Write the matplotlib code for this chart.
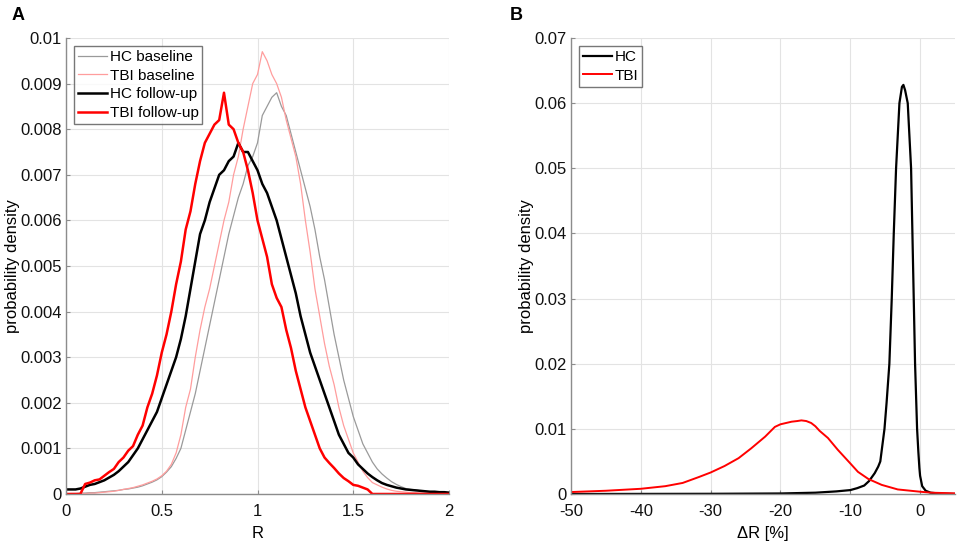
import matplotlib
matplotlib.use("Agg")
import matplotlib.pyplot as plt
import numpy as np

plt.rcParams['font.family'] = ['Liberation Sans', 'DejaVu Sans']
plt.rcParams['font.size'] = 12
plt.rcParams['axes.unicode_minus'] = False

# ---------------- Panel A data ----------------
R = [0.0, 0.025, 0.05, 0.075, 0.1, 0.125, 0.15, 0.175, 0.2, 0.225,
     0.25, 0.275, 0.3, 0.325, 0.35, 0.375, 0.4, 0.425, 0.45, 0.475,
     0.5, 0.525, 0.55, 0.575, 0.6, 0.625, 0.65, 0.675, 0.7, 0.725,
     0.75, 0.775, 0.8, 0.825, 0.85, 0.875, 0.9, 0.925, 0.95, 0.975,
     1.0, 1.025, 1.05, 1.075, 1.1, 1.125, 1.15, 1.175, 1.2, 1.225,
     1.25, 1.275, 1.3, 1.325, 1.35, 1.375, 1.4, 1.425, 1.45, 1.475,
     1.5, 1.525, 1.55, 1.575, 1.6, 1.625, 1.65, 1.675, 1.7, 1.725,
     1.75, 1.775, 1.8, 1.825, 1.85, 1.875, 1.9, 1.925, 1.95, 1.975, 2.0]

hc_baseline = [0.0, 0.00001, 0.00001, 0.00002, 0.00002, 0.00003, 0.00003, 0.00004, 0.00005, 0.00006,
               0.00007, 0.00008, 0.0001, 0.00011, 0.00013, 0.00015, 0.00018, 0.00022, 0.00026, 0.00031,
               0.00038, 0.00048, 0.0006, 0.00078, 0.001, 0.0014, 0.0018, 0.0022, 0.0027, 0.0032,
               0.0037, 0.0042, 0.0047, 0.0052, 0.0057, 0.0061, 0.0065, 0.0068, 0.0072, 0.0074,
               0.0077, 0.0083, 0.0085, 0.0087, 0.0088, 0.0085, 0.0083, 0.0079, 0.0075, 0.0071,
               0.0067, 0.0063, 0.0058, 0.0052, 0.0047, 0.0041, 0.0035, 0.003, 0.0025, 0.0021,
               0.0017, 0.0014, 0.0011, 0.0009, 0.0007, 0.00055, 0.00044, 0.00035, 0.00027, 0.00021,
               0.00016, 0.00012, 0.0001, 0.00009, 0.00007, 0.00006, 0.00005, 0.00004, 0.00003, 0.00003, 0.00002]

tbi_baseline = [0.0, 0.00001, 0.00001, 0.00001, 0.00001, 0.00002, 0.00002, 0.00003, 0.00004, 0.00005,
                0.00006, 0.00008, 0.0001, 0.00012, 0.00014, 0.00017, 0.0002, 0.00024, 0.00028, 0.00033,
                0.0004, 0.0005, 0.00065, 0.0009, 0.0013, 0.0019, 0.0023, 0.003, 0.0036, 0.0041,
                0.0045, 0.005, 0.0055, 0.006, 0.0064, 0.007, 0.0074, 0.008, 0.0085, 0.009,
                0.0092, 0.0097, 0.0095, 0.0092, 0.009, 0.0087, 0.0082, 0.0078, 0.0074, 0.0068,
                0.006, 0.0053, 0.0045, 0.0039, 0.0033, 0.0028, 0.0024, 0.0019, 0.0015, 0.0012,
                0.0009, 0.0007, 0.0005, 0.00036, 0.00025, 0.0002, 0.00015, 0.00011, 0.00008, 0.00006,
                0.00005, 0.00004, 0.00003, 0.00003, 0.00002, 0.00002, 0.00002, 0.00001, 0.00001, 0.00001, 0.00001]

hc_followup = [0.0001, 0.0001, 0.0001, 0.00012, 0.00016, 0.0002, 0.00022, 0.00026, 0.0003, 0.00036,
               0.00042, 0.0005, 0.0006, 0.0007, 0.00085, 0.001, 0.0012, 0.0014, 0.0016, 0.0018,
               0.0021, 0.0024, 0.0027, 0.003, 0.0034, 0.0039, 0.0045, 0.0051, 0.0057, 0.006,
               0.0064, 0.0067, 0.007, 0.0071, 0.0073, 0.0074, 0.0077, 0.0075, 0.0075, 0.0073,
               0.0071, 0.0068, 0.0066, 0.0063, 0.006, 0.0056, 0.0052, 0.0048, 0.0044, 0.0039,
               0.0035, 0.0031, 0.0028, 0.0025, 0.0022, 0.0019, 0.0016, 0.0013, 0.0011, 0.0009,
               0.0008, 0.00065, 0.00055, 0.00045, 0.00037, 0.0003, 0.00024, 0.0002, 0.00017, 0.00014,
               0.00012, 0.0001, 0.00009, 0.00008, 0.00007, 0.00006, 0.00005, 0.00005, 0.00004, 0.00004, 0.00003]

tbi_followup = [0.0, 0.0, 0.0, 0.0, 0.00022, 0.00025, 0.0003, 0.00032, 0.0004, 0.00048,
                0.00055, 0.0007, 0.0008, 0.00095, 0.00105, 0.0013, 0.0015, 0.0019, 0.0022, 0.0026,
                0.0031, 0.0035, 0.004, 0.0046, 0.0051, 0.0058, 0.0062, 0.0068, 0.0073, 0.0077,
                0.0079, 0.0081, 0.0082, 0.0088, 0.0081, 0.008, 0.0077, 0.0075, 0.0071, 0.0066,
                0.006, 0.0056, 0.0052, 0.0046, 0.0043, 0.0041, 0.0036, 0.0032, 0.0027, 0.0023,
                0.0019, 0.0016, 0.0013, 0.001, 0.0008, 0.00068, 0.00057, 0.00045, 0.00035, 0.00028,
                0.0002, 0.00018, 0.00014, 0.0001, 0.0, 0.0, 0.0, 0.0, 0.0, 0.0,
                0.0, 0.0, 0.0, 0.0, 0.0, 0.0, 0.0, 0.0, 0.0, 0.0, 0.0]

# ---------------- Panel B data ----------------
dR_hc = [-50, -30, -20, -15, -12, -10, -9, -8, -7.3, -6.5, -6, -5.7, -5.1, -4.8, -4.4,
         -4.06, -3.77, -3.44, -2.96, -2.6, -2.39, -2.15, -1.77, -1.29, -1.1, -0.91,
         -0.72, -0.43, -0.25, -0.1, 0.0, 0.3, 0.8, 1.5, 3.0, 5.0]
hc_delta = [0.0, 0.00003, 0.00008, 0.0002, 0.0004, 0.0006, 0.0009, 0.0013, 0.002, 0.0032,
            0.0042, 0.005, 0.01, 0.014, 0.02, 0.03, 0.04, 0.05, 0.06, 0.0625, 0.0628,
            0.062, 0.06, 0.05, 0.04, 0.03, 0.02, 0.01, 0.0065, 0.004, 0.0028, 0.0012,
            0.0005, 0.0002, 0.00005, 0.0]

dR_tbi = [-50, -45, -40, -36.5, -34, -31.7, -30, -28, -26, -24.2, -22.2, -20.8, -20,
          -19.2, -18.4, -17.6, -17, -16.3, -15.6, -15, -14.4, -13.2, -11.8, -10, -8.9,
          -7.4, -5.5, -3.2, 0, 1.6, 5]
tbi_delta = [0.0003, 0.0005, 0.0008, 0.0012, 0.0017, 0.0026, 0.0033, 0.0043, 0.0055,
             0.007, 0.0088, 0.0103, 0.0107, 0.0109, 0.0111, 0.0112, 0.0113, 0.0112,
             0.0109, 0.0104, 0.0097, 0.0086, 0.0068, 0.0047, 0.0034, 0.0023, 0.0014,
             0.0007, 0.00035, 0.0002, 0.0001]

gray_c = '#9a9a9a'
pink_c = '#ff9d9d'
red_c = '#ff0000'

fig = plt.figure(figsize=(9.57, 5.43), dpi=100)
axA = fig.add_axes([66/957, 49/543, 383/957, 456/543])
axB = fig.add_axes([571/957, 49/543, 384/957, 456/543])


def style(ax):
    ax.grid(True, color='#e3e3e3', linewidth=0.8)
    ax.set_axisbelow(True)
    for s in ['top', 'right']:
        ax.spines[s].set_visible(False)
    for s in ['left', 'bottom']:
        ax.spines[s].set_color('#8c8c8c')
        ax.spines[s].set_linewidth(1.0)
    ax.tick_params(direction='in', length=3, color='#8c8c8c', labelsize=12,
                   labelcolor='#111111')
    ax.tick_params(axis='y', pad=3)
    ax.tick_params(axis='x', pad=7)


def legend(ax):
    leg = ax.legend(loc='upper left', fontsize=11, frameon=True, fancybox=False,
                    edgecolor='#555555', handlelength=1.9, handletextpad=0.15,
                    borderpad=0.25, labelspacing=0.3, borderaxespad=0.55)
    leg.get_frame().set_linewidth(1.0)
    return leg


axA.plot(R, hc_baseline, color=gray_c, lw=0.9, label='HC baseline')
axA.plot(R, tbi_baseline, color=pink_c, lw=0.9, label='TBI baseline')
axA.plot(R, hc_followup, color='black', lw=1.8, label='HC follow-up')
axA.plot(R, tbi_followup, color=red_c, lw=1.8, label='TBI follow-up')
axA.set_xlim(0, 2)
axA.set_ylim(0, 0.01)
axA.set_xticks([0, 0.5, 1, 1.5, 2])
axA.set_xticklabels(['0', '0.5', '1', '1.5', '2'])
axA.set_yticks(np.arange(0, 0.0101, 0.001))
axA.set_yticklabels(['0', '0.001', '0.002', '0.003', '0.004', '0.005', '0.006',
                     '0.007', '0.008', '0.009', '0.01'])
axA.set_xlabel('R', fontsize=12, labelpad=5)
axA.set_ylabel('probability density', fontsize=12, labelpad=0.5)
style(axA)
legend(axA)

axB.plot(dR_hc, hc_delta, color='black', lw=1.6, label='HC')
axB.plot(dR_tbi, tbi_delta, color=red_c, lw=1.4, label='TBI')
axB.set_xlim(-50, 5)
axB.set_ylim(0, 0.07)
axB.set_xticks([-50, -40, -30, -20, -10, 0])
axB.set_yticks(np.arange(0, 0.0701, 0.01))
axB.set_yticklabels(['0', '0.01', '0.02', '0.03', '0.04', '0.05', '0.06', '0.07'])
axB.set_xlabel('ΔR [%]', fontsize=12, labelpad=5)
axB.set_ylabel('probability density', fontsize=12, labelpad=0.5)
style(axB)
legend(axB)

fig.text(12/957, 1 - 15/543, 'A', fontsize=13, fontweight='bold', va='center', ha='left')
fig.text(510/957, 1 - 15/543, 'B', fontsize=13, fontweight='bold', va='center', ha='left')

fig.savefig('out.png', dpi=100)
